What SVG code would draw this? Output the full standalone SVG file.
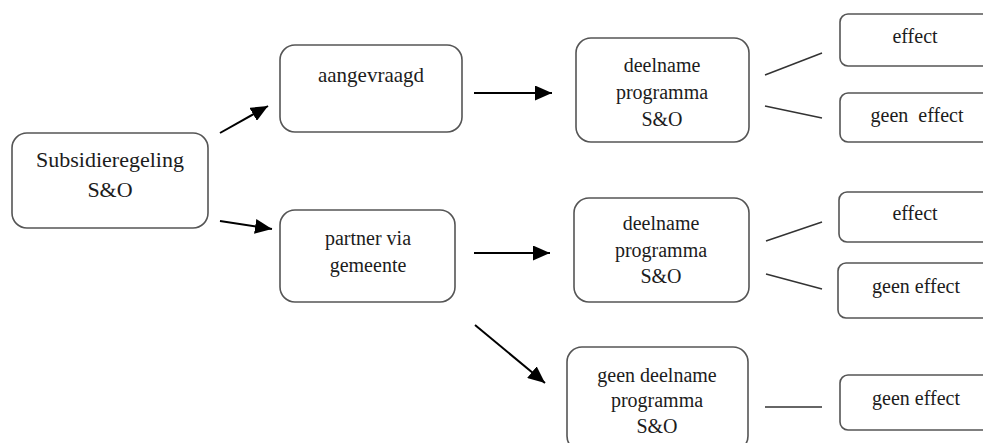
<svg xmlns="http://www.w3.org/2000/svg" width="983" height="443" viewBox="0 0 983 443">
<defs>
<style>
.box{fill:#fff;stroke:#555;stroke-width:1.6}
.t{font-family:"Liberation Serif","DejaVu Serif",serif;font-size:20px;fill:#1c1c1c;text-anchor:middle}
.arr{stroke:#000;stroke-width:2;fill:none;marker-end:url(#ah)}
.ln{stroke:#333;stroke-width:1.5;fill:none}
</style>
<marker id="ah" markerUnits="userSpaceOnUse" markerWidth="19" markerHeight="15" refX="17" refY="7.5" orient="auto">
<path d="M0,0 L17,7.5 L0,15 Z" fill="#000"/>
</marker>
</defs>
<rect width="983" height="443" fill="#fff"/>
<g id="connectors">
<line class="arr" x1="220" y1="133" x2="268" y2="106"/>
<line class="arr" x1="220" y1="221" x2="272" y2="229"/>
<line class="arr" x1="474" y1="93" x2="552" y2="93"/>
<line class="arr" x1="474" y1="253" x2="550" y2="253"/>
<line class="arr" x1="475" y1="325" x2="545" y2="383"/>
<line class="ln" x1="765" y1="75" x2="822" y2="53"/>
<line class="ln" x1="765" y1="106" x2="822" y2="118"/>
<line class="ln" x1="766" y1="241" x2="822" y2="222"/>
<line class="ln" x1="766" y1="274" x2="822" y2="289"/>
<line class="ln" x1="765" y1="407" x2="822" y2="407"/>
</g>
<g id="subsidieregeling">
<rect class="box" x="12" y="133" width="196" height="95" rx="15"/>
<text class="t" x="110" y="167" style="font-size:22px">Subsidieregeling</text>
<text class="t" x="110" y="197" style="font-size:22px">S&amp;O</text>
</g>
<g id="aangevraagd">
<rect class="box" x="280" y="45" width="182" height="87" rx="15"/>
<text class="t" x="371" y="82" style="font-size:21px">aangevraagd</text>
</g>
<g id="partner">
<rect class="box" x="280" y="210" width="175" height="92" rx="15"/>
<text class="t" x="368" y="245">partner via</text>
<text class="t" x="368" y="272">gemeente</text>
</g>
<g id="deelname1">
<rect class="box" x="576" y="38" width="173" height="104" rx="15"/>
<text class="t" x="662" y="72">deelname</text>
<text class="t" x="662" y="99">programma</text>
<text class="t" x="662" y="126">S&amp;O</text>
</g>
<g id="deelname2">
<rect class="box" x="574" y="198" width="175" height="104" rx="15"/>
<text class="t" x="661" y="230">deelname</text>
<text class="t" x="661" y="257">programma</text>
<text class="t" x="661" y="283">S&amp;O</text>
</g>
<g id="geendeelname">
<rect class="box" x="567" y="347" width="181" height="104" rx="15"/>
<text class="t" x="657" y="382">geen deelname</text>
<text class="t" x="657" y="407">programma</text>
<text class="t" x="657" y="433">S&amp;O</text>
</g>
<g id="effect1">
<rect class="box" x="840" y="14" width="160" height="52" rx="8"/>
<text class="t" x="915" y="43">effect</text>
</g>
<g id="geeneffect1">
<rect class="box" x="840" y="93" width="160" height="49" rx="8"/>
<text class="t" x="917" y="122" xml:space="preserve">geen  effect</text>
</g>
<g id="effect2">
<rect class="box" x="839" y="192" width="160" height="50" rx="8"/>
<text class="t" x="915" y="220">effect</text>
</g>
<g id="geeneffect2">
<rect class="box" x="838" y="263" width="160" height="55" rx="8"/>
<text class="t" x="916" y="293">geen effect</text>
</g>
<g id="geeneffect3">
<rect class="box" x="840" y="375" width="160" height="55" rx="8"/>
<text class="t" x="916" y="405">geen effect</text>
</g>
</svg>
